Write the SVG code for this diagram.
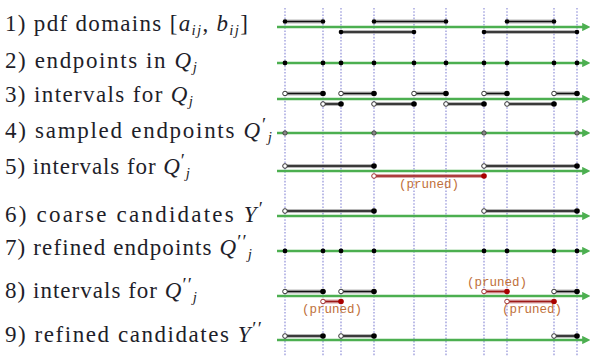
<svg xmlns="http://www.w3.org/2000/svg" width="592" height="356" viewBox="0 0 592 356">
<style>
.lbl{font-family:'Liberation Serif','Times New Roman','Tinos','Noto Serif','DejaVu Serif','FreeSerif',Times,serif;font-size:23px;fill:#1e1e2a}
.it{font-style:italic}
.sub{font-size:15px;font-style:italic}
.sup{font-size:19px}
.vl{stroke:#8f8fd8;stroke-width:1.2;stroke-dasharray:1.6,1.6}
.ax{stroke:#4caf50;stroke-width:2.6}
.halo{stroke:#9a9a9a;stroke-width:4.2;stroke-opacity:0.7;fill:none}
.bar{stroke:#111;stroke-width:1.6;fill:none}
.rhalo{stroke:#d09090;stroke-width:4.2;stroke-opacity:0.8;fill:none}
.rbar{stroke:#9c1a1a;stroke-width:1.6;fill:none}
.f{fill:#000}
.o{fill:#fff;stroke:#333;stroke-width:1}
.s{fill:#888;stroke:#333;stroke-width:0.8}
.rf{fill:#a80000}
.ro{fill:#fff;stroke:#a03030;stroke-width:1}
.pr{font-family:'Liberation Mono','Courier New','DejaVu Sans Mono',monospace;font-size:12.5px;fill:#c0703a;text-anchor:middle}
</style>
<defs>
<marker id="arr" viewBox="0 0 10 10" refX="1" refY="5" markerWidth="3.2" markerHeight="3.2" orient="auto" markerUnits="strokeWidth">
<path d="M0,0 L10,5 L0,10 z" fill="#4caf50"/>
</marker>
</defs>

<g id="gridlines">
<line class="vl" x1="285" y1="8" x2="285" y2="356"/>
<line class="vl" x1="323" y1="8" x2="323" y2="356"/>
<line class="vl" x1="341" y1="8" x2="341" y2="356"/>
<line class="vl" x1="374" y1="8" x2="374" y2="356"/>
<line class="vl" x1="414" y1="8" x2="414" y2="356"/>
<line class="vl" x1="446" y1="8" x2="446" y2="356"/>
<line class="vl" x1="484" y1="8" x2="484" y2="356"/>
<line class="vl" x1="507" y1="8" x2="507" y2="356"/>
<line class="vl" x1="554" y1="8" x2="554" y2="356"/>
<line class="vl" x1="577" y1="8" x2="577" y2="356"/>
</g>

<g id="connectors">
<line class="ax" x1="277" y1="27" x2="583" y2="27" marker-end="url(#arr)"/>
<line class="ax" x1="277" y1="63" x2="583" y2="63" marker-end="url(#arr)"/>
<line class="ax" x1="277" y1="99" x2="583" y2="99" marker-end="url(#arr)"/>
<line class="ax" x1="277" y1="133" x2="583" y2="133" marker-end="url(#arr)"/>
<line class="ax" x1="277" y1="171" x2="583" y2="171" marker-end="url(#arr)"/>
<line class="ax" x1="277" y1="216" x2="583" y2="216" marker-end="url(#arr)"/>
<line class="ax" x1="277" y1="251" x2="583" y2="251" marker-end="url(#arr)"/>
<line class="ax" x1="277" y1="296" x2="583" y2="296" marker-end="url(#arr)"/>
<line class="ax" x1="277" y1="340" x2="583" y2="340" marker-end="url(#arr)"/>
</g>

<g id="row1">
<text class="lbl" x="5" y="31" textLength="243">1) pdf domains [<tspan class="it">a</tspan><tspan class="sub" dy="4">ij</tspan><tspan dy="-4">, </tspan><tspan class="it">b</tspan><tspan class="sub" dy="4">ij</tspan><tspan dy="-4">]</tspan></text>
<path class="halo" d="M285,21.5H323M374,21.5H446M507,21.5H554M341,32H414M484,32H577"/>
<path class="bar" d="M285,21.5H323M374,21.5H446M507,21.5H554M341,32H414M484,32H577"/>
<circle class="f" cx="285" cy="21.5" r="2.3"/><circle class="f" cx="323" cy="21.5" r="2.3"/>
<circle class="f" cx="374" cy="21.5" r="2.3"/><circle class="f" cx="446" cy="21.5" r="2.3"/>
<circle class="f" cx="507" cy="21.5" r="2.3"/><circle class="f" cx="554" cy="21.5" r="2.3"/>
<circle class="f" cx="341" cy="32" r="2.3"/><circle class="f" cx="414" cy="32" r="2.3"/>
<circle class="f" cx="484" cy="32" r="2.3"/><circle class="f" cx="577" cy="32" r="2.3"/>
</g>

<g id="row2">
<text class="lbl" x="5" y="67.5" textLength="192">2) endpoints in <tspan class="it">Q</tspan><tspan class="sub" dy="4">j</tspan></text>
<circle class="f" cx="285" cy="63" r="2.4"/><circle class="f" cx="323" cy="63" r="2.4"/>
<circle class="f" cx="341" cy="63" r="2.4"/><circle class="f" cx="374" cy="63" r="2.4"/>
<circle class="f" cx="414" cy="63" r="2.4"/><circle class="f" cx="446" cy="63" r="2.4"/>
<circle class="f" cx="484" cy="63" r="2.4"/><circle class="f" cx="507" cy="63" r="2.4"/>
<circle class="f" cx="554" cy="63" r="2.4"/><circle class="f" cx="577" cy="63" r="2.4"/>
</g>

<g id="row3">
<text class="lbl" x="5" y="102" textLength="188">3) intervals for <tspan class="it">Q</tspan><tspan class="sub" dy="4">j</tspan></text>
<path class="halo" d="M285,93.5H323M341,93.5H374M414,93.5H446M484,93.5H507M554,93.5H577M323,104H341M374,104H414M446,104H484M507,104H554"/>
<path class="bar" d="M285,93.5H323M341,93.5H374M414,93.5H446M484,93.5H507M554,93.5H577M323,104H341M374,104H414M446,104H484M507,104H554"/>
<circle class="o" cx="285" cy="93.5" r="2.3"/><circle class="f" cx="323" cy="93.5" r="2.8"/>
<circle class="o" cx="341" cy="93.5" r="2.3"/><circle class="f" cx="374" cy="93.5" r="2.8"/>
<circle class="o" cx="414" cy="93.5" r="2.3"/><circle class="f" cx="446" cy="93.5" r="2.8"/>
<circle class="o" cx="484" cy="93.5" r="2.3"/><circle class="f" cx="507" cy="93.5" r="2.8"/>
<circle class="o" cx="554" cy="93.5" r="2.3"/><circle class="f" cx="577" cy="93.5" r="2.8"/>
<circle class="o" cx="323" cy="104" r="2.3"/><circle class="f" cx="341" cy="104" r="2.8"/>
<circle class="o" cx="374" cy="104" r="2.3"/><circle class="f" cx="414" cy="104" r="2.8"/>
<circle class="o" cx="446" cy="104" r="2.3"/><circle class="f" cx="484" cy="104" r="2.8"/>
<circle class="o" cx="507" cy="104" r="2.3"/><circle class="f" cx="554" cy="104" r="2.8"/>
</g>

<g id="row4">
<text class="lbl" x="5" y="138" textLength="267">4) sampled endpoints <tspan class="it">Q</tspan><tspan class="sup" dy="-7">′</tspan><tspan class="sub" dy="11">j</tspan></text>
<circle class="s" cx="285" cy="133" r="2.2"/><circle class="s" cx="374" cy="133" r="2.2"/>
<circle class="s" cx="484" cy="133" r="2.2"/><circle class="s" cx="577" cy="133" r="2.2"/>
</g>

<g id="row5">
<text class="lbl" x="5" y="173.5" textLength="185">5) intervals for <tspan class="it">Q</tspan><tspan class="sup" dy="-7">′</tspan><tspan class="sub" dy="11">j</tspan></text>
<path class="halo" d="M285,166H374M484,166H577"/>
<path class="bar" d="M285,166H374M484,166H577"/>
<circle class="o" cx="285" cy="166" r="2.3"/><circle class="f" cx="374" cy="166" r="2.8"/>
<circle class="o" cx="484" cy="166" r="2.3"/><circle class="f" cx="577" cy="166" r="2.8"/>
<path class="rhalo" d="M374,176H484"/>
<path class="rbar" d="M374,176H484"/>
<circle class="ro" cx="374" cy="176" r="2.3"/><circle class="rf" cx="484" cy="176" r="2.8"/>
<text class="pr" x="429" y="188">(pruned)</text>
</g>

<g id="row6">
<text class="lbl" x="5" y="222" textLength="258">6) coarse candidates <tspan class="it">Y</tspan><tspan class="sup" dy="-7">′</tspan></text>
<path class="halo" d="M285,211H374M484,211H577"/>
<path class="bar" d="M285,211H374M484,211H577"/>
<circle class="o" cx="285" cy="211" r="2.3"/><circle class="f" cx="374" cy="211" r="2.8"/>
<circle class="o" cx="484" cy="211" r="2.3"/><circle class="f" cx="577" cy="211" r="2.8"/>
</g>

<g id="row7">
<text class="lbl" x="5" y="255" textLength="247">7) refined endpoints <tspan class="it">Q</tspan><tspan class="sup" dy="-7">′′</tspan><tspan class="sub" dy="11">j</tspan></text>
<circle class="f" cx="285" cy="251" r="2.4"/><circle class="f" cx="323" cy="251" r="2.4"/>
<circle class="f" cx="341" cy="251" r="2.4"/><circle class="f" cx="374" cy="251" r="2.4"/>
<circle class="f" cx="484" cy="251" r="2.4"/><circle class="f" cx="507" cy="251" r="2.4"/>
<circle class="f" cx="554" cy="251" r="2.4"/><circle class="f" cx="577" cy="251" r="2.4"/>
</g>

<g id="row8">
<text class="lbl" x="5" y="298" textLength="192">8) intervals for <tspan class="it">Q</tspan><tspan class="sup" dy="-7">′′</tspan><tspan class="sub" dy="11">j</tspan></text>
<path class="halo" d="M285,291.5H323M341,291.5H374M554,291.5H577"/>
<path class="bar" d="M285,291.5H323M341,291.5H374M554,291.5H577"/>
<circle class="o" cx="285" cy="291.5" r="2.3"/><circle class="f" cx="323" cy="291.5" r="2.8"/>
<circle class="o" cx="341" cy="291.5" r="2.3"/><circle class="f" cx="374" cy="291.5" r="2.8"/>
<circle class="o" cx="554" cy="291.5" r="2.3"/><circle class="f" cx="577" cy="291.5" r="2.8"/>
<path class="rhalo" d="M323,301.5H341M484,291.5H507M507,301.5H554"/>
<path class="rbar" d="M323,301.5H341M484,291.5H507M507,301.5H554"/>
<circle class="ro" cx="323" cy="301.5" r="2.3"/><circle class="rf" cx="341" cy="301.5" r="2.8"/>
<circle class="ro" cx="484" cy="291.5" r="2.3"/><circle class="rf" cx="507" cy="291.5" r="2.8"/>
<circle class="ro" cx="507" cy="301.5" r="2.3"/><circle class="rf" cx="554" cy="301.5" r="2.8"/>
<text class="pr" x="332" y="313">(pruned)</text>
<text class="pr" x="497" y="286">(pruned)</text>
<text class="pr" x="532" y="313">(pruned)</text>
</g>

<g id="row9">
<text class="lbl" x="5" y="342" textLength="257">9) refined candidates <tspan class="it">Y</tspan><tspan class="sup" dy="-7">′′</tspan></text>
<path class="halo" d="M285,336H323M341,336H374M554,336H577"/>
<path class="bar" d="M285,336H323M341,336H374M554,336H577"/>
<circle class="o" cx="285" cy="336" r="2.3"/><circle class="f" cx="323" cy="336" r="2.8"/>
<circle class="o" cx="341" cy="336" r="2.3"/><circle class="f" cx="374" cy="336" r="2.8"/>
<circle class="o" cx="554" cy="336" r="2.3"/><circle class="f" cx="577" cy="336" r="2.8"/>
</g>
</svg>
